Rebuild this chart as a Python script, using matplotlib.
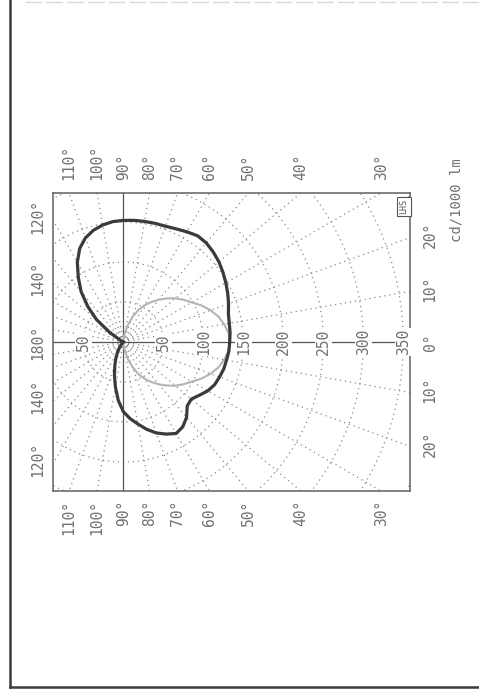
import numpy as np
import matplotlib
matplotlib.use('Agg')
import matplotlib.pyplot as plt
from matplotlib.lines import Line2D

# ---- data: luminous intensity distribution (cd/1000 lm) ----
# black curve, half drawn above the 0-180 axis
gamma_a = [0, 5, 10, 15, 20, 25, 30, 35, 40, 45, 50, 55, 60, 65, 70, 75, 80, 85,
           90, 95, 100, 105, 110, 115, 120, 125, 130, 135, 140, 145, 150, 160, 170, 180]
i_a = [133, 134, 134.5, 136, 140, 144, 148, 152, 156, 159, 161.5, 162, 159, 156, 154,
       153.5, 153, 152.6, 152, 151, 148.5, 144.5, 138.5, 129, 115, 98, 82, 63, 44, 21,
       3, 0, 0, 0]
# black curve, half drawn below the 0-180 axis
gamma_b = [0, 5, 10, 15, 20, 25, 30, 35, 40, 45, 50, 55, 60, 65, 70, 75, 80, 85,
           90, 95, 100, 105, 110, 115, 120, 125, 130, 140, 160, 180]
i_b = [133, 132.5, 131, 130, 128, 126, 122, 116, 111, 113, 123, 129.5, 132, 127, 121,
       113, 104, 96, 87, 73, 57, 43, 31, 22, 14, 8, 3, 0, 0, 0]
# grey curve (perpendicular plane, symmetric)
gamma_c = [0, 5, 10, 15, 20, 25, 30, 35, 40, 45, 50, 55, 60, 65, 70, 75, 80, 85, 90]
i_c = [133, 132, 128, 123, 116, 108, 99, 92, 85, 77, 69, 61, 53, 44, 33, 22, 11, 4, 0]

radial_labels = [50, 100, 150, 200, 250, 300, 350]
neg_radial_labels = [50]
grid_radii = [50, 100, 150, 200, 250, 300, 350, 400]
top_angles = [110, 100, 90, 80, 70, 60, 50, 40, 30]
left_angles = [120, 140, 180, -140, -120]
left_texts = ['120°', '140°', '180°', '140°', '120°']
right_angles = [20, 10, 0, -10, -20]
right_texts = ['20°', '10°', '0°', '10°', '20°']

XMIN, XMAX, YLIM = -87.9, 358.4, 186.2

txt_color = '#707070'
font = 'DejaVu Sans Mono'
fs_ang = 10.5
fs_rad = 10.5

fig = plt.figure(figsize=(4.79, 6.91), dpi=100)
ax = fig.add_axes([53 / 479, 1 - 491 / 691, 357 / 479, 298 / 691])
ax.set_xlim(XMIN, XMAX)
ax.set_ylim(-YLIM, YLIM)
ax.set_xticks([])
ax.set_yticks([])
for s in ax.spines.values():
    s.set_color('#606060')
    s.set_linewidth(1.1)

# dotted grid circles
t = np.linspace(0, 2 * np.pi, 721)
for r in grid_radii:
    ax.plot(r * np.cos(t), r * np.sin(t), color='#8a8a8a', lw=0.9,
            linestyle=(0, (1, 3)), zorder=1)
# dotted radial lines every 10 degrees
for a in range(10, 360, 10):
    if a in (90, 180, 270):
        continue
    th = np.radians(a)
    ax.plot([0, 600 * np.cos(th)], [0, 600 * np.sin(th)], color='#8a8a8a', lw=0.9,
            linestyle=(0, (1, 3)), zorder=1)

# solid axes lines
ax.axhline(0, color='#555555', lw=0.9, zorder=2)
ax.axvline(0, color='#555555', lw=0.9, zorder=2)

# radial value labels on the 0-180 line
for v in radial_labels:
    ax.text(v, 0, str(v), rotation=90, ha='center', va='center', fontsize=fs_rad,
            family=font, color=txt_color, zorder=3,
            bbox=dict(fc='white', ec='none', pad=0.6))
for v in neg_radial_labels:
    ax.text(-v, 0, str(v), rotation=90, ha='center', va='center', fontsize=fs_rad,
            family=font, color=txt_color, zorder=3,
            bbox=dict(fc='white', ec='none', pad=0.6))

# curves
ga = np.radians(gamma_a)
gb = np.radians(gamma_b)
gc = np.radians(gamma_c)
ia = np.array(i_a)
ib = np.array(i_b)
ic = np.array(i_c)

xg = np.concatenate([(ic * np.cos(gc))[::-1], ic * np.cos(gc)])
yg = np.concatenate([(ic * np.sin(gc))[::-1], -ic * np.sin(gc)])
ax.plot(xg, yg, color='#b4b4b4', lw=1.5, zorder=4)

xk = np.concatenate([(ia * np.cos(ga))[::-1], ib * np.cos(gb)])
yk = np.concatenate([(ia * np.sin(ga))[::-1], -ib * np.sin(gb)])
ax.plot(xk, yk, color='#3a3a3a', lw=2.3, zorder=5, solid_joinstyle='round')

# angle labels above and below the frame
for a in top_angles:
    x = YLIM / np.tan(np.radians(a))
    ax.annotate(f'{a}°', xy=(x, 1), xycoords=('data', 'axes fraction'),
                xytext=(0, 9), textcoords='offset points', rotation=90,
                ha='center', va='bottom', fontsize=fs_ang, family=font, color=txt_color)
    ax.annotate(f'{a}°', xy=(x, 0), xycoords=('data', 'axes fraction'),
                xytext=(0, -6.5), textcoords='offset points', rotation=90,
                ha='center', va='top', fontsize=fs_ang, family=font, color=txt_color)

# angle labels left and right of the frame
for a, s in zip(left_angles, left_texts):
    y = XMIN * np.tan(np.radians(a))
    ax.annotate(s, xy=(0, y), xycoords=('axes fraction', 'data'),
                xytext=(-11, 3 if a != 180 else 0), textcoords='offset points',
                rotation=90, ha='center', va='center', fontsize=fs_ang, family=font,
                color=txt_color)
for a, s in zip(right_angles, right_texts):
    y = XMAX * np.tan(np.radians(a))
    ax.annotate(s, xy=(1, y), xycoords=('axes fraction', 'data'),
                xytext=(14.5, 2 if a != 0 else 0), textcoords='offset points',
                rotation=90, ha='center', va='center', fontsize=fs_ang, family=font,
                color=txt_color)

# small box label in the corner
ax.text(0.983, 0.955, 'LHS', transform=ax.transAxes, rotation=90, ha='center',
        va='center', fontsize=6, family=font, color='#555555', zorder=6,
        bbox=dict(boxstyle='square,pad=0.25', fc='white', ec='#555555', lw=0.8))

# unit text
fig.text(457 / 479, 1 - 200 / 691, 'cd/1000 lm', rotation=90, ha='center',
         va='center', fontsize=10, family=font, color=txt_color)

# page border lines
fig.add_artist(Line2D([10 / 479, 10 / 479], [1 - 687 / 691, 1.0],
                      transform=fig.transFigure, color='#3c3c3c', lw=1.8))
fig.add_artist(Line2D([10 / 479, 1.0], [1 - 687 / 691, 1 - 687 / 691],
                      transform=fig.transFigure, color='#3c3c3c', lw=1.8))
fig.add_artist(Line2D([25 / 479, 1.0], [1 - 1.5 / 691, 1 - 1.5 / 691],
                      transform=fig.transFigure, color='#d8d8d8', lw=1.0,
                      linestyle=(0, (12, 3))))

fig.savefig('out.png', dpi=100, facecolor='white')
